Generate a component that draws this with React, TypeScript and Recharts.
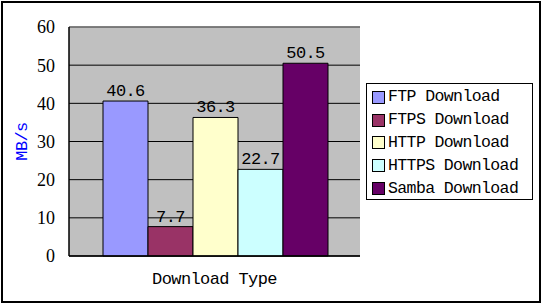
import React from 'react';
import { BarChart, Bar, XAxis, YAxis, CartesianGrid, Legend, LabelList, ReferenceLine } from 'recharts';

const categories = ['Download Type'];
const seriesNames = ['FTP Download', 'FTPS Download', 'HTTP Download', 'HTTPS Download', 'Samba Download'];
const seriesKeys = ['ftp', 'ftps', 'http', 'https', 'samba'];
const seriesValues = [[40.6], [7.7], [36.3], [22.7], [50.5]];
const seriesColors = ['#9999ff', '#993366', '#ffffcc', '#ccffff', '#660066'];
const yTicks = [0, 10, 20, 30, 40, 50, 60];
const yAxisTitle = 'MB/s';

const data = categories.map((c, i) => {
  const row: any = { category: c };
  seriesKeys.forEach((k, j) => {
    row[k] = seriesValues[j][i];
  });
  return row;
});

const monoFont = {
  fontFamily: '"Liberation Mono", monospace',
  fontSize: 17,
  letterSpacing: -0.6,
};

const renderLegend = (props: any) => {
  const payload = props.payload || [];
  return (
    <div
      style={{
        width: 167,
        height: 117,
        boxSizing: 'border-box',
        border: '1px solid #000',
        background: '#fff',
        paddingTop: 2,
      }}
    >
      {payload.map((entry: any, i: number) => (
        <div
          key={i}
          style={{ display: 'flex', alignItems: 'center', height: 22.8, paddingLeft: 5 }}
        >
          <span
            style={{
              display: 'inline-block',
              width: 13,
              height: 13,
              boxSizing: 'border-box',
              border: '1px solid #000',
              background: entry.color,
              flex: 'none',
            }}
          />
          <span
            style={{
              marginLeft: 3,
              fontFamily: '"Liberation Mono", monospace',
              fontSize: 16.5,
              letterSpacing: -0.6,
              color: '#000',
              lineHeight: '20px',
              whiteSpace: 'nowrap',
            }}
          >
            {entry.value}
          </span>
        </div>
      ))}
    </div>
  );
};

export default function App() {
  return (
    <div style={{ position: 'absolute', left: 0, top: 0, width: 541, height: 303, background: '#fff' }}>
      <BarChart
        width={541}
        height={303}
        data={data}
        margin={{ top: 27, right: 181, bottom: 0, left: 0 }}
        barGap={0}
        barCategoryGap={34}
      >
        <CartesianGrid vertical={false} fill="#c0c0c0" stroke="#000" strokeOpacity={1} yAxisId="left" />
        <XAxis
          dataKey="category"
          height={47}
          tickSize={0}
          tickMargin={16}
          axisLine={{ stroke: '#000', strokeWidth: 1.5 }}
          tickLine={false}
          tick={{ fill: '#000', ...monoFont }}
        />
        <YAxis
          yAxisId="left"
          width={69}
          domain={[0, 60]}
          ticks={yTicks}
          interval={0}
          tickSize={0}
          tickMargin={14}
          axisLine={{ stroke: '#000', strokeWidth: 1.5 }}
          tickLine={false}
          tick={{ fill: '#000', fontFamily: '"Liberation Serif", serif', fontSize: 18 }}
          label={{
            value: yAxisTitle,
            angle: -90,
            position: 'center',
            dx: -14,
            fill: '#0000ff',
            ...monoFont,
          }}
        />
        <YAxis
          yAxisId="right"
          orientation="right"
          width={0}
          domain={[0, 60]}
          tick={false}
          tickLine={false}
          axisLine={{ stroke: '#808080', strokeWidth: 1.5 }}
        />
        {seriesKeys.map((k, j) => (
          <Bar
            key={k}
            yAxisId="left"
            dataKey={k}
            name={seriesNames[j]}
            fill={seriesColors[j]}
            stroke="#000"
            strokeWidth={1}
            isAnimationActive={false}
          >
            <LabelList dataKey={k} position="top" offset={5} fill="#000" style={monoFont} />
          </Bar>
        ))}
        <ReferenceLine yAxisId="left" y={60} stroke="#808080" strokeWidth={1.5} />
        <Legend
          layout="vertical"
          align="center"
          verticalAlign="middle"
          content={renderLegend}
          wrapperStyle={{ position: 'absolute', left: 366, top: 83, width: 167, height: 117 }}
        />
      </BarChart>
      <div
        style={{
          position: 'absolute',
          left: 1,
          top: 1,
          width: 540,
          height: 302,
          boxSizing: 'border-box',
          border: '2px solid #000',
          pointerEvents: 'none',
        }}
      />
    </div>
  );
}
